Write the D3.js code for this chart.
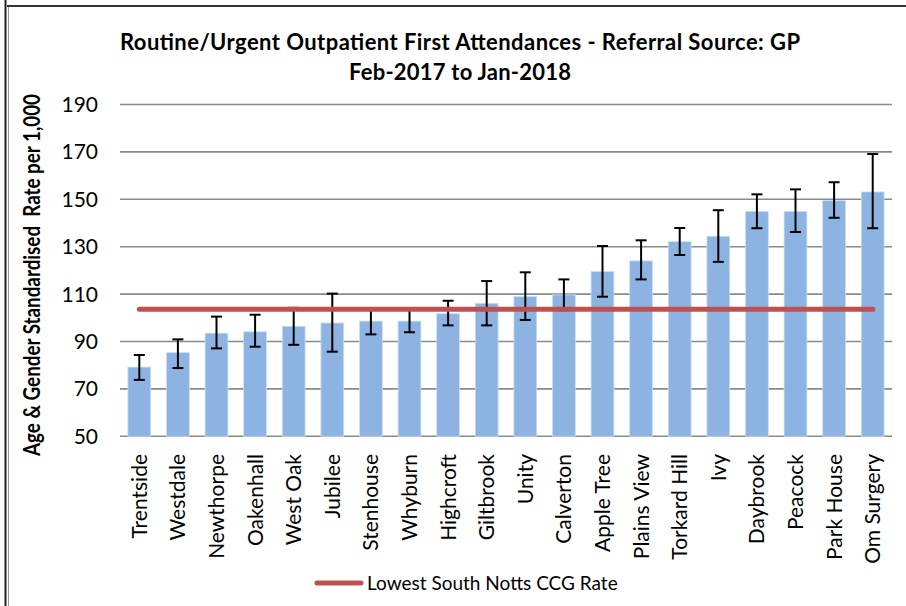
<!DOCTYPE html>
<html>
<head>
<meta charset="utf-8">
<script src="https://cdn.jsdelivr.net/npm/d3@7"></script>
<style>
  body { margin: 0; background: #fff; }
  svg { display: block; font-family: Lato, "Open Sans", sans-serif; }
</style>
</head>
<body>
<script>
// practices, sorted by rate
var practices = ["Trentside", "Westdale", "Newthorpe", "Oakenhall", "West Oak", "Jubilee",
  "Stenhouse", "Whyburn", "Highcroft", "Giltbrook", "Unity", "Calverton", "Apple Tree",
  "Plains View", "Torkard Hill", "Ivy", "Daybrook", "Peacock", "Park House", "Om Surgery"];

var rates = [79.2, 85.3, 93.5, 94.1, 96.4, 97.8, 98.6, 98.6, 101.7, 106.1,
  108.9, 109.7, 119.5, 124.0, 132.1, 134.4, 144.9, 144.9, 149.4, 153.1];

// confidence interval ends
var upper = [84.3, 90.9, 100.5, 101.3, 104.2, 110.2, 104.0, 103.6, 107.2, 115.5,
  119.2, 116.2, 130.3, 132.7, 137.9, 145.4, 152.1, 154.2, 157.2, 169.1];
var lower = [73.8, 78.8, 87.1, 87.8, 88.6, 85.7, 93.0, 93.9, 96.8, 96.8,
  99.1, 103.2, 108.9, 116.2, 126.5, 123.6, 137.8, 136.2, 142.2, 137.8];

var lowestRate = 103.6;
var yTicks = [50, 70, 90, 110, 130, 150, 170, 190];

var width = 906, height = 606;

var svg = d3.select("body").append("svg")
    .attr("width", width)
    .attr("height", height);

// outer frame (left double rule + top rule)
svg.append("line").attr("x1", 5.5).attr("x2", 5.5).attr("y1", 0).attr("y2", height)
    .attr("stroke", "#222").attr("stroke-width", 2);
svg.append("line").attr("x1", 8.5).attr("x2", 8.5).attr("y1", 6).attr("y2", height)
    .attr("stroke", "#999").attr("stroke-width", 1);
svg.append("line").attr("x1", 7).attr("x2", width).attr("y1", 6).attr("y2", 6)
    .attr("stroke", "#333").attr("stroke-width", 2);

var x = d3.scaleBand()
    .domain(practices)
    .range([120, 892])
    .paddingInner(0.41)
    .paddingOuter(0.205);

var y = d3.scaleLinear()
    .domain([50, 190])
    .range([436.3, 104.5]);

// gridlines
svg.append("g").selectAll("line")
  .data(yTicks)
  .join("line")
    .attr("x1", 120).attr("x2", 892)
    .attr("y1", d => y(d)).attr("y2", d => y(d))
    .attr("stroke", "#8a8a8a")
    .attr("stroke-width", 1.6);

// y tick labels
svg.append("g").selectAll("text")
  .data(yTicks)
  .join("text")
    .attr("x", 98)
    .attr("y", d => y(d))
    .attr("dy", "0.36em")
    .attr("text-anchor", "end")
    .attr("font-size", 21)
    .attr("fill", "#000")
    .text(d => d);

// bars
svg.append("g").selectAll("rect")
  .data(rates)
  .join("rect")
    .attr("x", (d, i) => x(practices[i]))
    .attr("width", x.bandwidth())
    .attr("y", d => y(d))
    .attr("height", d => y(50) - y(d))
    .attr("fill", "#8db3e2")
    .attr("stroke", "#c9dcf2")
    .attr("stroke-width", 0.8);

// error bars
var err = svg.append("g").attr("stroke", "#000").attr("stroke-width", 2);
practices.forEach(function(p, i) {
    var cx = x(p) + x.bandwidth() / 2;
    err.append("line").attr("x1", cx).attr("x2", cx)
        .attr("y1", y(upper[i])).attr("y2", y(lower[i]));
    [upper[i], lower[i]].forEach(function(v) {
        err.append("line").attr("x1", cx - 5.5).attr("x2", cx + 5.5)
            .attr("y1", y(v)).attr("y2", y(v));
    });
});

// lowest CCG rate line
var first = x(practices[0]) + x.bandwidth() / 2;
var last = x(practices[practices.length - 1]) + x.bandwidth() / 2;
svg.append("line")
    .attr("x1", first).attr("x2", last)
    .attr("y1", y(lowestRate)).attr("y2", y(lowestRate))
    .attr("stroke", "#c0504d")
    .attr("stroke-width", 5)
    .attr("stroke-linecap", "round");

// category labels
svg.append("g").selectAll("text")
  .data(practices)
  .join("text")
    .attr("transform", d => "translate(" + (x(d) + x.bandwidth() / 2) + ",454) rotate(-90)")
    .attr("dy", "0.36em")
    .attr("text-anchor", "end")
    .attr("font-size", 21)
    .attr("fill", "#000")
    .text(d => d);

// titles
svg.append("text")
    .attr("x", 460).attr("y", 50)
    .attr("text-anchor", "middle")
    .attr("font-size", 22)
    .attr("font-weight", "bold")
    .attr("textLength", 680)
    .attr("lengthAdjust", "spacing")
    .text("Routine/Urgent Outpatient First Attendances - Referral Source: GP");
svg.append("text")
    .attr("x", 460).attr("y", 80)
    .attr("text-anchor", "middle")
    .attr("font-size", 22)
    .attr("font-weight", "bold")
    .attr("textLength", 222)
    .attr("lengthAdjust", "spacing")
    .text("Feb-2017 to Jan-2018");

// y axis title (double space kept as in the original)
svg.append("text")
    .attr("transform", "translate(40,275) rotate(-90)")
    .attr("text-anchor", "middle")
    .attr("font-size", 22)
    .attr("font-weight", "bold")
    .style("white-space", "pre")
    .attr("textLength", 362)
    .attr("lengthAdjust", "spacingAndGlyphs")
    .text("Age & Gender Standardised  Rate per 1,000");

// legend
svg.append("line")
    .attr("x1", 317).attr("x2", 361)
    .attr("y1", 583).attr("y2", 583)
    .attr("stroke", "#c0504d")
    .attr("stroke-width", 5)
    .attr("stroke-linecap", "round");
svg.append("text")
    .attr("x", 367).attr("y", 583)
    .attr("dy", "0.36em")
    .attr("font-size", 19)
    .text("Lowest South Notts CCG Rate");
</script>
</body>
</html>
